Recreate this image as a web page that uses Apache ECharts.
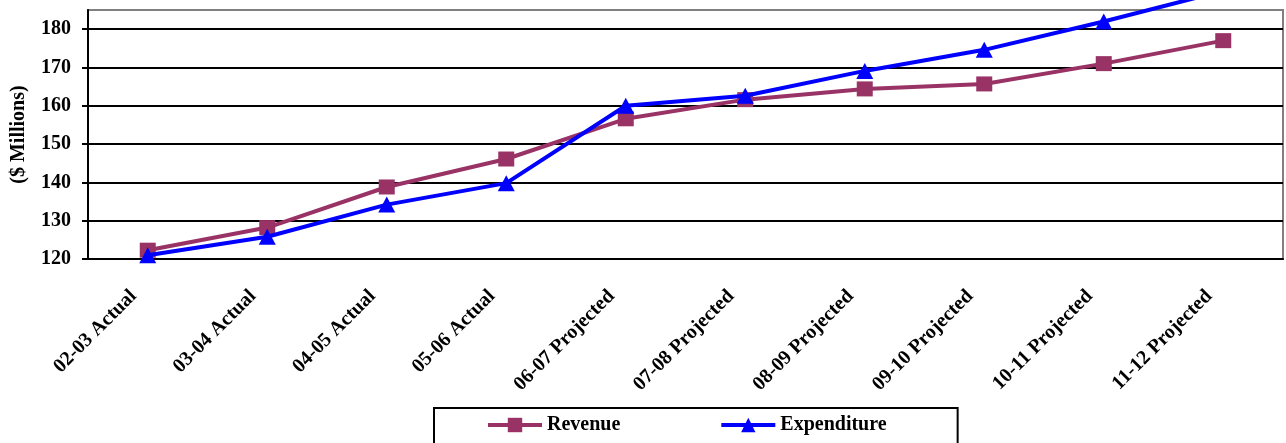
<!DOCTYPE html>
<html>
<head>
<meta charset="utf-8">
<script src="https://cdn.jsdelivr.net/npm/echarts@6/dist/echarts.min.js"></script>
<style>
  html, body { margin: 0; padding: 0; background: #fff; }
  #chart { width: 1286px; height: 443px; }
</style>
</head>
<body>
<div id="chart"></div>
<script>
var categories = ['02-03 Actual', '03-04 Actual', '04-05 Actual', '05-06 Actual',
  '06-07 Projected', '07-08 Projected', '08-09 Projected', '09-10 Projected',
  '10-11 Projected', '11-12 Projected'];
var revenue = [122.3, 128.2, 138.8, 146.1, 156.6, 161.6, 164.4, 165.7, 171.0, 177.0];
var expenditure = [121.0, 125.8, 134.2, 139.8, 160.0, 162.6, 169.1, 174.6, 182.0, 190.0];
var yTicks = [120, 130, 140, 150, 160, 170, 180];

var font = 'Liberation Serif';
var chart = echarts.init(document.getElementById('chart'));

chart.setOption({
  animation: false,
  grid: {
    left: 88, right: 3, top: 10, bottom: 184,
    show: true, borderColor: '#808080', borderWidth: 2
  },
  legend: {
    left: 434, top: 408,
    padding: [7, 71, 20, 52],
    borderColor: '#000', borderWidth: 2,
    itemWidth: 54, itemHeight: 18, itemGap: 99,
    lineStyle: { width: 4 },
    textStyle: { fontFamily: font, fontWeight: 'bold', fontSize: 20, color: '#000' },
    data: ['Revenue', 'Expenditure']
  },
  xAxis: {
    type: 'category',
    data: categories,
    boundaryGap: true,
    axisLine: { lineStyle: { color: '#000', width: 2 } },
    axisTick: { length: 6, lineStyle: { color: '#000', width: 2 } },
    axisLabel: {
      rotate: 45, interval: 0, margin: 20, padding: [0, 20, 0, 0],
      fontFamily: font, fontWeight: 'bold', fontSize: 20, color: '#000'
    },
    splitLine: { show: false }
  },
  yAxis: {
    type: 'value',
    min: 120, max: 185, interval: 10,
    name: '($ Millions)',
    nameLocation: 'middle', nameGap: 59, nameRotate: 90,
    nameTextStyle: { fontFamily: font, fontWeight: 'bold', fontSize: 20, color: '#000' },
    axisLine: { show: true, lineStyle: { color: '#000', width: 2 } },
    axisTick: { show: true, length: 6, customValues: yTicks, lineStyle: { color: '#000', width: 2 } },
    axisLabel: {
      customValues: yTicks, margin: 17,
      fontFamily: font, fontWeight: 'bold', fontSize: 20, color: '#000'
    },
    splitLine: {
      lineStyle: { color: ['#000', '#000', '#000', '#000', '#000', '#000', '#000', '#808080'], width: 2 }
    }
  },
  series: [
    {
      name: 'Revenue', type: 'line', data: revenue,
      symbol: 'rect', symbolSize: [16, 15],
      lineStyle: { color: '#993366', width: 4 },
      itemStyle: { color: '#993366' },
      clip: false, z: 3
    },
    {
      name: 'Expenditure', type: 'line', data: expenditure,
      symbol: 'triangle', symbolSize: [17, 16],
      lineStyle: { color: '#0000ff', width: 4 },
      itemStyle: { color: '#0000ff' },
      clip: false, z: 4
    }
  ]
});
</script>
</body>
</html>
